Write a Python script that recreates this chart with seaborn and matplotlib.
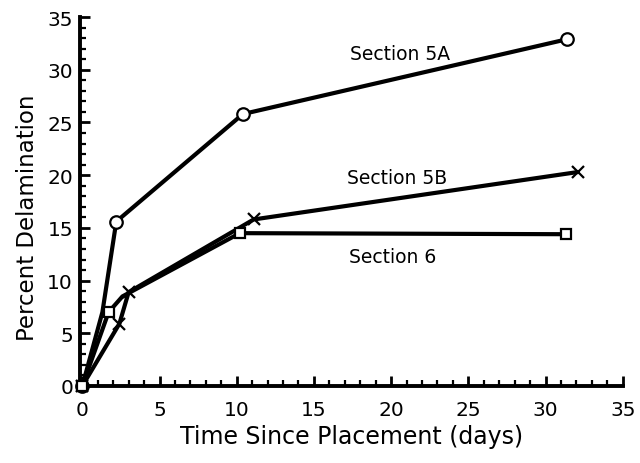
import matplotlib
matplotlib.use("Agg")
import matplotlib.pyplot as plt
import pandas as pd
import seaborn as sns
from matplotlib.ticker import MultipleLocator

# Delamination measurements by section
days_5a = [0.0, 1.3, 2.2, 10.4, 31.4]
pct_5a = [0.0, 7.0, 15.6, 25.8, 32.9]

days_5b = [0.0, 2.4, 3.0, 11.1, 32.1]
pct_5b = [0.0, 5.9, 8.9, 15.8, 20.3]

days_6 = [0.0, 1.7, 2.6, 10.2, 31.3]
pct_6 = [0.0, 7.0, 8.5, 14.5, 14.4]

section_names = ["Section 5A", "Section 5B", "Section 6"]
label_pos = [(20.6, 31.5), (20.4, 19.8), (20.1, 12.3)]

df = pd.concat([
    pd.DataFrame({"days": days_5a, "pct": pct_5a, "section": section_names[0]}),
    pd.DataFrame({"days": days_5b, "pct": pct_5b, "section": section_names[1]}),
    pd.DataFrame({"days": days_6, "pct": pct_6, "section": section_names[2]}),
])

sns.set_style("ticks")
plt.rcParams["font.family"] = ["DejaVu Sans"]
for key in ("text.color", "axes.labelcolor", "xtick.color", "ytick.color",
            "axes.edgecolor"):
    plt.rcParams[key] = "black"

fig = plt.figure(figsize=(6.4, 4.64), dpi=100)
ax = fig.add_axes([0.125, 0.166, 0.848, 0.795])

markers = {"Section 5A": "o", "Section 5B": "x", "Section 6": "s"}
sizes = {"Section 5A": 9, "Section 5B": 9, "Section 6": 7}
mark_at = {"Section 5A": [0, 2, 3, 4], "Section 5B": [0, 1, 2, 3, 4],
           "Section 6": [0, 1, 3, 4]}
for name in section_names:
    sub = df[df["section"] == name]
    sns.lineplot(data=sub, x="days", y="pct", ax=ax, color="black",
                 linewidth=3.0, marker=markers[name], markersize=sizes[name],
                 markevery=mark_at[name],
                 markerfacecolor="white", markeredgecolor="black",
                 markeredgewidth=1.6, sort=False, estimator=None,
                 legend=False, clip_on=False, zorder=3)

for name, (tx, ty) in zip(section_names, label_pos):
    ax.text(tx, ty, name, ha="center", va="center", fontsize=13.5)

ax.set_xlim(-0.15, 35)
ax.set_ylim(0, 35)
ax.xaxis.set_major_locator(MultipleLocator(5))
ax.xaxis.set_minor_locator(MultipleLocator(1))
ax.yaxis.set_major_locator(MultipleLocator(5))
ax.yaxis.set_minor_locator(MultipleLocator(1))
ax.tick_params(which="major", direction="in", length=7, width=2,
               labelsize=14.5)
ax.tick_params(which="minor", direction="in", length=4, width=1.6)
ax.tick_params(axis="x", pad=10)
ax.tick_params(axis="y", pad=5)

sns.despine(ax=ax)
for side in ("left", "bottom"):
    ax.spines[side].set_linewidth(2.8)

ax.set_xlabel("Time Since Placement (days)", fontsize=17, labelpad=4)
ax.set_ylabel("Percent Delamination", fontsize=16.5, labelpad=4)
ax.yaxis.set_label_coords(-0.076, 0.46)

fig.savefig("out.png", dpi=100)
